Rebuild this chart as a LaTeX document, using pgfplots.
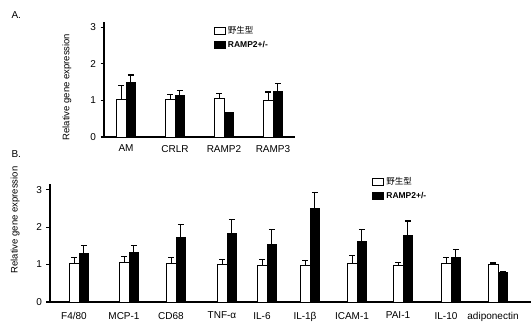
\documentclass[border=0pt]{standalone}
\usepackage{fontspec}
\setmainfont{Liberation Sans}
\newfontfamily\cjk{Noto Sans CJK JP}
\usepackage{pgfplots}
\pgfplotsset{compat=1.18}
\pgfplotsset{
  boxlegend/.style={legend image code/.code={\draw[##1,line width=0.9pt] (0pt,-3.5pt) rectangle (11pt,3.5pt);}},
  common/.style={
    scale only axis, axis lines*=left, ymin=0, ytick={0,1,2,3},
    tick align=outside, major tick length=3.5pt, xtick style={draw=none},
    ytick style={line width=1.1pt, black},
    ybar=0pt, bar width=9.5pt,
    axis line style={line width=1.2pt},
    /pgf/number format/assume math mode=true,
    tick label style={font=\fontsize{10}{11}\selectfont},
    yticklabel style={xshift=-1pt},
    ylabel style={font=\fontsize{9.5}{10}\selectfont, anchor=center},
    legend style={draw=none, fill=none, font=\fontsize{8.5}{10}\selectfont, inner sep=0pt, row sep=2pt, legend cell align=left},
    clip=false,
    error bars/y dir=plus, error bars/y explicit,
    error bars/error bar style={line width=1.2pt, draw=black},
    error bars/error mark options={rotate=90, draw=black, line width=1.2pt, mark size=3pt},
  },
  wt/.style={fill=white, draw=black, line width=0.9pt, boxlegend},
  ko/.style={fill=black, draw=black, line width=0.9pt, boxlegend},
}
\begin{document}
\begin{tikzpicture}[x=1pt,y=1pt]
\path[use as bounding box] (0,0) rectangle (532,321);
\node[anchor=west, font=\fontsize{10}{11}\selectfont] at (8,306) {A.};
\node[anchor=west, font=\fontsize{10}{11}\selectfont] at (8,167) {B.};
% Panel A
\begin{axis}[common, at={(104pt,184pt)}, anchor=south west,
  width=191pt, height=114.7pt, xmin=0, xmax=191, ymax=3.13,
  xtick={22,71,120,169}, xticklabels={AM,CRLR,RAMP2,RAMP3},
  xticklabel style={yshift=-1pt},
  ylabel={Relative gene expression},
  ylabel style={at={(axis description cs:-0.194,0.435)}},
  legend style={at={(axis description cs:0.575,0.98)}, anchor=north west},
]
\addplot[wt] coordinates {(22,1.02) +- (0,0.38) (71,1.02) +- (0,0.14) (120,1.05) +- (0,0.14) (169,0.99) +- (0,0.24)};
\addplot[ko] coordinates {(22,1.48) +- (0,0.21) (71,1.14) +- (0,0.13) (120,0.67) +- (0,0) (169,1.25) +- (0,0.21)};
\legend{{\cjk 野生型},\textbf{RAMP2+/-}}
\end{axis}
% Panel B
\begin{axis}[common, at={(50pt,19pt)}, anchor=south west,
  width=481pt, height=118pt, xmin=0, xmax=481, ymax=3.15,
  xtick={29,79,126,177,217,260,307,353,401,448},
  xticklabels={F4/80,MCP-1,CD68,TNF-α,IL-6,IL-1β,ICAM-1,PAI-1,IL-10,adiponectin},
  xticklabel style={yshift=-3pt, xshift=-5pt},
  ylabel={Relative gene expression},
  ylabel style={at={(axis description cs:-0.0726,0.695)}},
  legend style={at={(axis description cs:0.67,1.075)}, anchor=north west},
]
\addplot[wt] coordinates {(29,1.02) +- (0,0.16) (79,1.05) +- (0,0.17) (126,1.02) +- (0,0.16) (177,0.99) +- (0,0.15) (217,0.98) +- (0,0.15) (260,0.98) +- (0,0.13) (307,1.02) +- (0,0.23) (353,0.97) +- (0,0.09) (401,1.02) +- (0,0.16) (448,1.0) +- (0,0.04)};
\addplot[ko] coordinates {(29,1.29) +- (0,0.22) (79,1.32) +- (0,0.19) (126,1.72) +- (0,0.35) (177,1.83) +- (0,0.37) (217,1.54) +- (0,0.40) (260,2.49) +- (0,0.43) (307,1.62) +- (0,0.31) (353,1.78) +- (0,0.38) (401,1.18) +- (0,0.22) (448,0.78) +- (0,0.04)};
\legend{{\cjk 野生型},\textbf{RAMP2+/-}}
\end{axis}
\end{tikzpicture}
\end{document}
